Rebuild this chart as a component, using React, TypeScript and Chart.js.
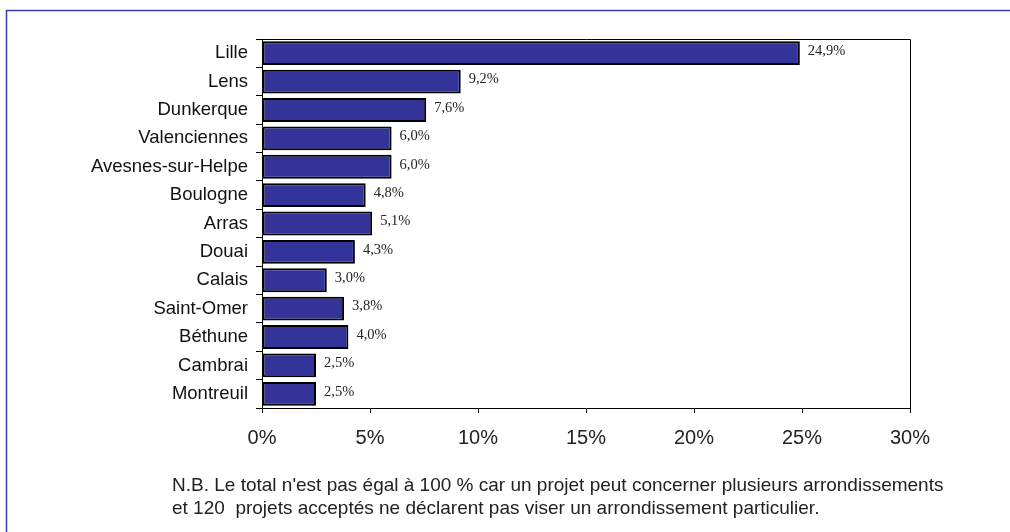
import React, { useEffect, useRef } from "react";
import { Chart, registerables } from "chart.js";

Chart.register(...registerables);

const categories = [
  "Lille",
  "Lens",
  "Dunkerque",
  "Valenciennes",
  "Avesnes-sur-Helpe",
  "Boulogne",
  "Arras",
  "Douai",
  "Calais",
  "Saint-Omer",
  "Béthune",
  "Cambrai",
  "Montreuil",
];
const shares = [24.9, 9.2, 7.6, 6.0, 6.0, 4.8, 5.1, 4.3, 3.0, 3.8, 4.0, 2.5, 2.5];
const xMin = 0;
const xMax = 30;
const xStep = 5;
const noteLines = [
  "N.B. Le total n'est pas égal à 100 % car un projet peut concerner plusieurs arrondissements",
  "et 120  projets acceptés ne déclarent pas viser un arrondissement particulier.",
];

const fmt = (v: number) => v.toFixed(1).replace(".", ",") + "%";

const decorPlugin = {
  id: "decor",
  afterDraw(chart: any) {
    const { ctx, chartArea } = chart;
    ctx.save();
    // outer blue frame (top + left)
    ctx.strokeStyle = "#3a3ab4";
    ctx.lineWidth = 1.5;
    ctx.beginPath();
    ctx.moveTo(6.5, 532);
    ctx.lineTo(6.5, 10.5);
    ctx.lineTo(1010, 10.5);
    ctx.stroke();
    // plot frame top + right
    ctx.strokeStyle = "#000";
    ctx.lineWidth = 1;
    ctx.beginPath();
    ctx.moveTo(Math.round(chartArea.left), Math.round(chartArea.top) + 0.5);
    ctx.lineTo(Math.round(chartArea.right) + 0.5, Math.round(chartArea.top) + 0.5);
    ctx.lineTo(Math.round(chartArea.right) + 0.5, Math.round(chartArea.bottom));
    ctx.stroke();
    // data labels
    const meta = chart.getDatasetMeta(0);
    ctx.fillStyle = "#222";
    ctx.font = '14.5px "Liberation Serif"';
    ctx.textAlign = "left";
    ctx.textBaseline = "middle";
    meta.data.forEach((bar: any, i: number) => {
      ctx.fillText(fmt(shares[i]), bar.x + 8, bar.y - 2);
    });
    // note
    ctx.fillStyle = "#222";
    ctx.font = '19px "Liberation Sans"';
    ctx.fillText(noteLines[0], 172, 486);
    ctx.fillText(noteLines[1], 172, 509);
    ctx.restore();
  },
};

export default function App() {
  const ref = useRef<HTMLCanvasElement | null>(null);
  useEffect(() => {
    if (!ref.current) return;
    const chart = new Chart(ref.current, {
      type: "bar",
      data: {
        labels: categories,
        datasets: [
          {
            data: shares,
            backgroundColor: "#333399",
            borderColor: "#000",
            borderWidth: 2,
            borderSkipped: false,
            barPercentage: 0.84,
            categoryPercentage: 1,
          },
        ],
      },
      options: {
        indexAxis: "y",
        responsive: false,
        animation: false,
        devicePixelRatio: 1,
        layout: { padding: { left: 0, top: 39, right: 100, bottom: 84 } },
        plugins: { legend: { display: false }, tooltip: { enabled: false }, title: { display: false } },
        scales: {
          x: {
            min: xMin,
            max: xMax,
            ticks: {
              stepSize: xStep,
              callback: (v: any) => v + "%",
              font: { family: "Liberation Sans", size: 20 },
              color: "#222",
              padding: 13,
            },
            grid: { drawOnChartArea: false, color: "#000", tickLength: 5 },
            border: { display: true, color: "#000", width: 1 },
            afterFit: (s: any) => {
              s.height = 40;
            },
          },
          y: {
            ticks: {
              font: { family: "Liberation Sans", size: 18.5 },
              color: "#111",
              padding: 8,
            },
            grid: { offset: true, drawOnChartArea: false, color: "#000", tickLength: 6 },
            border: { display: true, color: "#000", width: 1 },
            afterFit: (s: any) => {
              s.width = 262;
            },
          },
        },
      },
      plugins: [decorPlugin],
    });
    return () => chart.destroy();
  }, []);
  return (
    <div style={{ position: "absolute", left: 0, top: 0, width: 1010, height: 532, background: "#fff" }}>
      <canvas ref={ref} width={1010} height={532} style={{ width: 1010, height: 532, display: "block" }} />
    </div>
  );
}
